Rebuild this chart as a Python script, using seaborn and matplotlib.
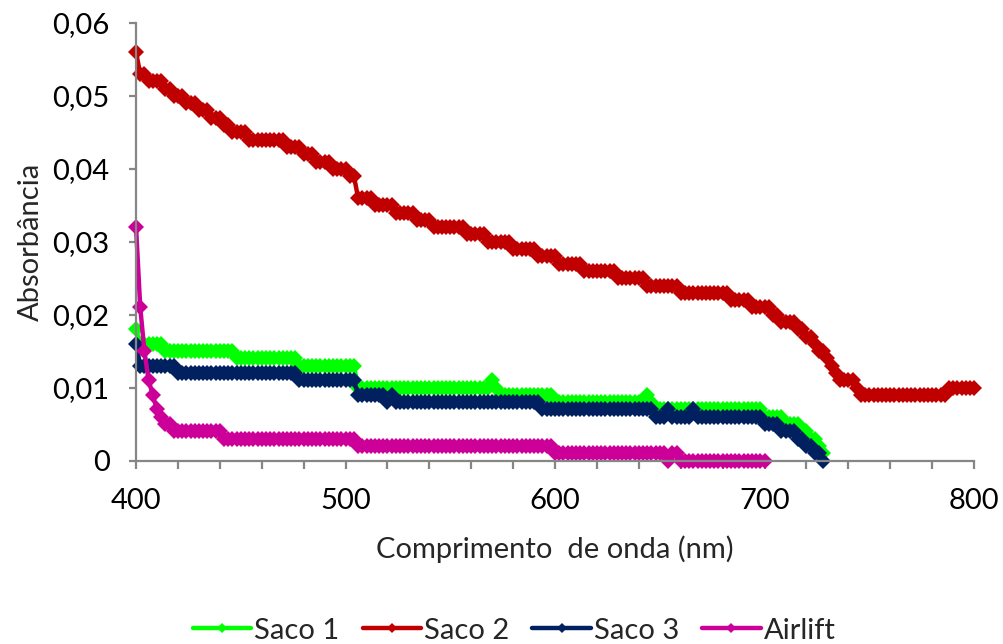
import matplotlib
matplotlib.use("Agg")
import matplotlib.pyplot as plt
import numpy as np
import pandas as pd
import seaborn as sns
from matplotlib.ticker import FuncFormatter, MultipleLocator

# absorbance read every 2 nm
saco_2 = [
    0.056, 0.053, 0.053, 0.052, 0.052, 0.052, 0.052, 0.051, 0.051, 0.050,  # 400
    0.050, 0.050, 0.049, 0.049, 0.049, 0.048, 0.048, 0.048, 0.047, 0.047,  # 420
    0.047, 0.046, 0.046, 0.045, 0.045, 0.045, 0.045, 0.044, 0.044, 0.044,  # 440
    0.044, 0.044, 0.044, 0.044, 0.044, 0.044, 0.043, 0.043, 0.043, 0.043,  # 460
    0.042, 0.042, 0.042, 0.041, 0.041, 0.041, 0.041, 0.040, 0.040, 0.040,  # 480
    0.040, 0.039, 0.039, 0.036, 0.036, 0.036, 0.036, 0.035, 0.035, 0.035,  # 500
    0.035, 0.035, 0.034, 0.034, 0.034, 0.034, 0.034, 0.033, 0.033, 0.033,  # 520
    0.033, 0.032, 0.032, 0.032, 0.032, 0.032, 0.032, 0.032, 0.032, 0.031,  # 540
    0.031, 0.031, 0.031, 0.031, 0.030, 0.030, 0.030, 0.030, 0.030, 0.030,  # 560
    0.029, 0.029, 0.029, 0.029, 0.029, 0.029, 0.028, 0.028, 0.028, 0.028,  # 580
    0.028, 0.027, 0.027, 0.027, 0.027, 0.027, 0.027, 0.026, 0.026, 0.026,  # 600
    0.026, 0.026, 0.026, 0.026, 0.026, 0.025, 0.025, 0.025, 0.025, 0.025,  # 620
    0.025, 0.025, 0.024, 0.024, 0.024, 0.024, 0.024, 0.024, 0.024, 0.024,  # 640
    0.023, 0.023, 0.023, 0.023, 0.023, 0.023, 0.023, 0.023, 0.023, 0.023,  # 660
    0.023, 0.023, 0.022, 0.022, 0.022, 0.022, 0.022, 0.021, 0.021, 0.021,  # 680
    0.021, 0.021, 0.020, 0.020, 0.019, 0.019, 0.019, 0.019, 0.018, 0.018,  # 700
    0.017, 0.017, 0.016, 0.015, 0.015, 0.014, 0.013, 0.012, 0.011, 0.011,  # 720
    0.011, 0.011, 0.010, 0.009, 0.009, 0.009, 0.009, 0.009, 0.009, 0.009,  # 740
    0.009, 0.009, 0.009, 0.009, 0.009, 0.009, 0.009, 0.009, 0.009, 0.009,  # 760
    0.009, 0.009, 0.009, 0.009, 0.010, 0.010, 0.010, 0.010, 0.010, 0.010,  # 780
    0.010,                                                                 # 800
]

saco_1 = [
    0.018, 0.016, 0.016, 0.016, 0.016, 0.016, 0.016, 0.015, 0.015, 0.015,  # 400
    0.015, 0.015, 0.015, 0.015, 0.015, 0.015, 0.015, 0.015, 0.015, 0.015,  # 420
    0.015, 0.015, 0.015, 0.015, 0.014, 0.014, 0.014, 0.014, 0.014, 0.014,  # 440
    0.014, 0.014, 0.014, 0.014, 0.014, 0.014, 0.014, 0.014, 0.014, 0.013,  # 460
    0.013, 0.013, 0.013, 0.013, 0.013, 0.013, 0.013, 0.013, 0.013, 0.013,  # 480
    0.013, 0.013, 0.013, 0.010, 0.010, 0.010, 0.010, 0.010, 0.010, 0.010,  # 500
    0.010, 0.010, 0.010, 0.010, 0.010, 0.010, 0.010, 0.010, 0.010, 0.010,  # 520
    0.010, 0.010, 0.010, 0.010, 0.010, 0.010, 0.010, 0.010, 0.010, 0.010,  # 540
    0.010, 0.010, 0.010, 0.010, 0.010, 0.011, 0.010, 0.009, 0.009, 0.009,  # 560
    0.009, 0.009, 0.009, 0.009, 0.009, 0.009, 0.009, 0.009, 0.009, 0.009,  # 580
    0.008, 0.008, 0.008, 0.008, 0.008, 0.008, 0.008, 0.008, 0.008, 0.008,  # 600
    0.008, 0.008, 0.008, 0.008, 0.008, 0.008, 0.008, 0.008, 0.008, 0.008,  # 620
    0.008, 0.008, 0.009, 0.008, 0.007, 0.007, 0.007, 0.007, 0.007, 0.007,  # 640
    0.007, 0.007, 0.007, 0.007, 0.007, 0.007, 0.007, 0.007, 0.007, 0.007,  # 660
    0.007, 0.007, 0.007, 0.007, 0.007, 0.007, 0.007, 0.007, 0.007, 0.007,  # 680
    0.006, 0.006, 0.006, 0.006, 0.006, 0.005, 0.005, 0.005, 0.005, 0.004,  # 700
    0.004, 0.003, 0.003, 0.002, 0.001,                                     # 720
]

saco_3 = [
    0.016, 0.013, 0.013, 0.013, 0.013, 0.013, 0.013, 0.013, 0.013, 0.013,  # 400
    0.012, 0.012, 0.012, 0.012, 0.012, 0.012, 0.012, 0.012, 0.012, 0.012,  # 420
    0.012, 0.012, 0.012, 0.012, 0.012, 0.012, 0.012, 0.012, 0.012, 0.012,  # 440
    0.012, 0.012, 0.012, 0.012, 0.012, 0.012, 0.012, 0.012, 0.012, 0.011,  # 460
    0.011, 0.011, 0.011, 0.011, 0.011, 0.011, 0.011, 0.011, 0.011, 0.011,  # 480
    0.011, 0.011, 0.011, 0.009, 0.009, 0.009, 0.009, 0.009, 0.009, 0.009,  # 500
    0.008, 0.009, 0.008, 0.008, 0.008, 0.008, 0.008, 0.008, 0.008, 0.008,  # 520
    0.008, 0.008, 0.008, 0.008, 0.008, 0.008, 0.008, 0.008, 0.008, 0.008,  # 540
    0.008, 0.008, 0.008, 0.008, 0.008, 0.008, 0.008, 0.008, 0.008, 0.008,  # 560
    0.008, 0.008, 0.008, 0.008, 0.008, 0.008, 0.008, 0.007, 0.007, 0.007,  # 580
    0.007, 0.007, 0.007, 0.007, 0.007, 0.007, 0.007, 0.007, 0.007, 0.007,  # 600
    0.007, 0.007, 0.007, 0.007, 0.007, 0.007, 0.007, 0.007, 0.007, 0.007,  # 620
    0.007, 0.007, 0.007, 0.007, 0.006, 0.006, 0.006, 0.007, 0.006, 0.006,  # 640
    0.006, 0.006, 0.006, 0.007, 0.006, 0.006, 0.006, 0.006, 0.006, 0.006,  # 660
    0.006, 0.006, 0.006, 0.006, 0.006, 0.006, 0.006, 0.006, 0.006, 0.006,  # 680
    0.005, 0.005, 0.005, 0.005, 0.004, 0.004, 0.004, 0.004, 0.003, 0.003,  # 700
    0.002, 0.002, 0.001, 0.001, 0.000,                                     # 720
]

airlift = [
    0.032, 0.021, 0.015, 0.011, 0.009, 0.007, 0.006, 0.005, 0.005, 0.004,  # 400
    0.004, 0.004, 0.004, 0.004, 0.004, 0.004, 0.004, 0.004, 0.004, 0.004,  # 420
    0.004, 0.003, 0.003, 0.003, 0.003, 0.003, 0.003, 0.003, 0.003, 0.003,  # 440
    0.003, 0.003, 0.003, 0.003, 0.003, 0.003, 0.003, 0.003, 0.003, 0.003,  # 460
    0.003, 0.003, 0.003, 0.003, 0.003, 0.003, 0.003, 0.003, 0.003, 0.003,  # 480
    0.003, 0.003, 0.003, 0.002, 0.002, 0.002, 0.002, 0.002, 0.002, 0.002,  # 500
    0.002, 0.002, 0.002, 0.002, 0.002, 0.002, 0.002, 0.002, 0.002, 0.002,  # 520
    0.002, 0.002, 0.002, 0.002, 0.002, 0.002, 0.002, 0.002, 0.002, 0.002,  # 540
    0.002, 0.002, 0.002, 0.002, 0.002, 0.002, 0.002, 0.002, 0.002, 0.002,  # 560
    0.002, 0.002, 0.002, 0.002, 0.002, 0.002, 0.002, 0.002, 0.002, 0.002,  # 580
    0.001, 0.001, 0.001, 0.001, 0.001, 0.001, 0.001, 0.001, 0.001, 0.001,  # 600
    0.001, 0.001, 0.001, 0.001, 0.001, 0.001, 0.001, 0.001, 0.001, 0.001,  # 620
    0.001, 0.001, 0.001, 0.001, 0.001, 0.001, 0.001, 0.000, 0.001, 0.001,  # 640
    0.000, 0.000, 0.000, 0.000, 0.000, 0.000, 0.000, 0.000, 0.000, 0.000,  # 660
    0.000, 0.000, 0.000, 0.000, 0.000, 0.000, 0.000, 0.000, 0.000, 0.000,  # 680
    0.000,                                                                 # 700
]

series = [
    ("Saco 1", saco_1, "#00FF00"),
    ("Saco 2", saco_2, "#C00000"),
    ("Saco 3", saco_3, "#002060"),
    ("Airlift", airlift, "#CC0099"),
]


def main():
    sns.set_style("white")
    plt.rcParams["font.family"] = ["Lato", "DejaVu Sans"]
    fs = 21

    fig = plt.figure(figsize=(10.04, 6.44), dpi=100)
    ax = fig.add_axes([0.1355, 0.2849, 0.8347, 0.6794])

    for name, values, color in series:
        df = pd.DataFrame({
            "nm": np.arange(400, 400 + 2 * len(values), 2),
            "abs": values,
        })
        sns.lineplot(data=df, x="nm", y="abs", ax=ax, color=color,
                     linewidth=3.2, marker="D", markersize=8.5,
                     markeredgewidth=0, label=name, clip_on=False)

    ax.set_xlim(400, 800)
    ax.set_ylim(0, 0.06)
    ax.xaxis.set_major_locator(MultipleLocator(100))
    ax.xaxis.set_minor_locator(MultipleLocator(20))
    ax.yaxis.set_major_locator(MultipleLocator(0.01))
    ax.yaxis.set_major_formatter(
        FuncFormatter(lambda v, p: "0" if v == 0 else f"{v:.2f}".replace(".", ",")))

    for side in ["top", "right"]:
        ax.spines[side].set_visible(False)
    for side in ["left", "bottom"]:
        ax.spines[side].set_color("#868686")
        ax.spines[side].set_linewidth(1.6)
    ax.tick_params(axis="both", which="both", direction="out", color="#868686",
                   width=1.6, labelsize=fs, labelcolor="black")
    ax.tick_params(axis="x", which="both", length=6, pad=14)
    ax.tick_params(axis="y", which="major", length=5, pad=14, left=True)
    ax.tick_params(axis="x", which="minor", bottom=True)
    ax.tick_params(axis="x", which="major", bottom=True)

    ax.set_xlabel("Comprimento  de onda (nm)", fontsize=fs, labelpad=15)
    ax.set_ylabel("Absorbância", fontsize=fs, labelpad=6)

    handles, labels = ax.get_legend_handles_labels()
    ax.get_legend().remove()
    fig.legend(handles, labels, loc="lower center", bbox_to_anchor=(0.512, -0.04),
               ncol=4, frameon=False, fontsize=fs, handlelength=2.0,
               handletextpad=0.1, columnspacing=0.8, markerscale=0.6)

    fig.savefig("out.png", dpi=100)
    plt.close(fig)


if __name__ == "__main__":
    main()
